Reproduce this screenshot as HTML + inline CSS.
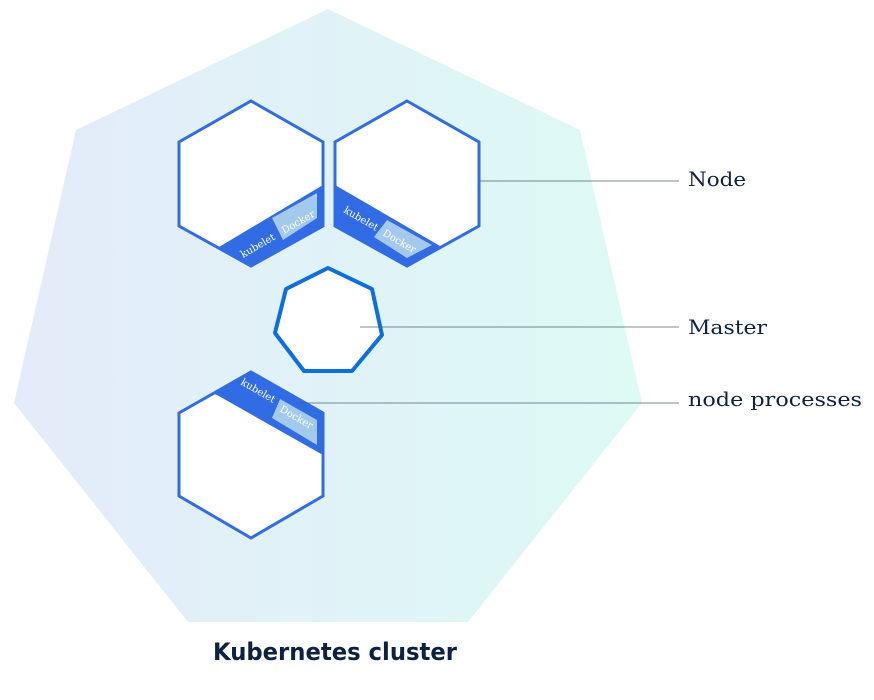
<!DOCTYPE html>
<html><head><meta charset="utf-8"><style>
html,body{margin:0;padding:0;background:#fff;}
svg{display:block}
</style></head><body>
<svg width="874" height="700" viewBox="0 0 874 700" xmlns="http://www.w3.org/2000/svg">
<defs>
<linearGradient id="g" x1="0" x2="1" y1="0" y2="0">
<stop offset="0" stop-color="#e4ebfa"/><stop offset="1" stop-color="#ddfaf5"/>
</linearGradient>
<clipPath id="h1"><polygon points="251,101 323,142 323,226 251,266 179,226 179,142"/></clipPath>
<clipPath id="h2"><polygon points="407,101 479,142 479,226 407,266 335,226 335,142"/></clipPath>
<clipPath id="h3"><polygon points="251,372 323,413 323,496 251,538 179,496 179,413"/></clipPath>
</defs>
<polygon points="328,9 580,130 642,403 468,622 188,622 14,403 76,130" fill="url(#g)"/>

<g font-family="'DejaVu Serif',serif" font-size="10" fill="#fff">
<polygon points="251,101 323,142 323,226 251,266 179,226 179,142" fill="#fff"/>
<polygon clip-path="url(#h1)" points="323,185 400,185 400,300 200,300 200,258 219,247" fill="#326ce5"/>
<polygon points="272,218 317,193 317,218 283,240" fill="#a3c9ec"/>
<text transform="translate(243,258) rotate(-30)">kubelet</text>
<text transform="translate(284,234) rotate(-30)">Docker</text>
<polygon points="251,101 323,142 323,226 251,266 179,226 179,142" fill="none" stroke="#326ce5" stroke-width="3"/>

<polygon points="407,101 479,142 479,226 407,266 335,226 335,142" fill="#fff"/>
<polygon clip-path="url(#h2)" points="335,185 300,185 300,300 500,300 460,258 440,246" fill="#326ce5"/>
<polygon points="387,220 432,245 407,258 374,237" fill="#a3c9ec"/>
<text transform="translate(343,212) rotate(30)">kubelet</text>
<text transform="translate(382,235) rotate(30)">Docker</text>
<polygon points="407,101 479,142 479,226 407,266 335,226 335,142" fill="none" stroke="#326ce5" stroke-width="3"/>

<polygon points="251,372 323,413 323,496 251,538 179,496 179,413" fill="#fff"/>
<polygon clip-path="url(#h3)" points="217,395 323,455 340,455 340,360 170,360 170,380" fill="#326ce5"/>
<polygon points="280,399 317,420 317,445 272,418" fill="#a3c9ec"/>
<text transform="translate(240,384) rotate(30)">kubelet</text>
<text transform="translate(279,411) rotate(30)">Docker</text>
<polygon points="251,372 323,413 323,496 251,538 179,496 179,413" fill="none" stroke="#326ce5" stroke-width="3"/>
</g>

<polygon points="328,268 372,289 382,335 352,371 304,371 275,333 286,289" fill="#fff" stroke="#0b6fe0" stroke-width="4" stroke-linejoin="round"/>

<g stroke="#4f6070" stroke-width="0.8">
<line x1="479" y1="181" x2="679" y2="181"/>
<line x1="360" y1="327" x2="679" y2="327"/>
<line x1="300" y1="403" x2="679" y2="403"/>
</g>
<g font-family="'DejaVu Serif',serif" font-size="20" fill="#0d2240">
<text x="688" y="186" textLength="58" lengthAdjust="spacingAndGlyphs">Node</text>
<text x="688" y="334" textLength="79" lengthAdjust="spacingAndGlyphs">Master</text>
<text x="688" y="406" textLength="174" lengthAdjust="spacingAndGlyphs">node processes</text>
</g>
<text x="213" y="660" textLength="244" lengthAdjust="spacingAndGlyphs" font-family="'DejaVu Sans',sans-serif" font-weight="bold" font-size="24" fill="#0d2240">Kubernetes cluster</text>
</svg>
</body></html>
